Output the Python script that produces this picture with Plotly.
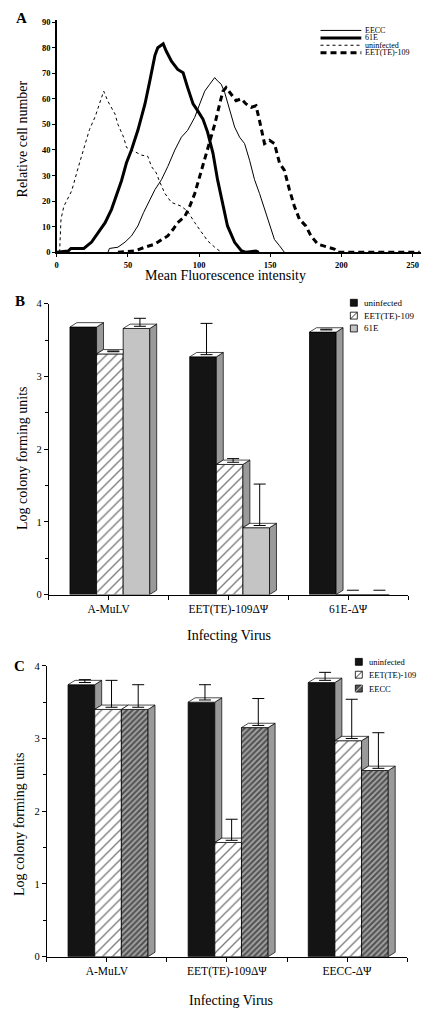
import plotly.graph_objects as go

W, H = 429, 1023
SERIF = "Liberation Serif, Times New Roman, serif"

# ---------------- Panel A data (flow cytometry histograms) ----------------
eecc_x = [36, 37, 43, 48, 52.5, 57, 61, 65.4, 69, 73.6, 78, 83, 87.6, 92, 97, 100.5, 104, 107.5, 111, 113,
          115.6, 118, 121.5, 125, 128.5, 132, 135.5, 139, 142.5, 146, 149.5, 153, 156.5, 160]
eecc_y = [0, 1.5, 2, 4, 6.4, 10.3, 15.5, 20.6, 24.5, 28.4, 33.5, 40, 45, 47.7, 52.8, 58, 63, 65.7, 68.3, 67,
          65.7, 62.5, 55.4, 49, 45, 42.5, 36, 28.4, 23, 16.8, 10.3, 5, 2.6, 0]

e61_x = [0, 8, 10, 19, 24.5, 29, 34, 38.5, 42, 45.5, 49, 52.5, 57, 62, 65.4, 69, 71, 74.8, 77, 80.6, 85, 88.8,
         92, 95.8, 99, 102.8, 106, 109.8, 113, 116.8, 120, 125, 129.7, 133, 140, 142]
e61_y = [0, 0.5, 1.5, 1.5, 4, 7.7, 11.6, 16.8, 22, 28, 35, 40, 47.7, 58, 67, 77, 80, 81.5, 78.6, 74.7, 71.5, 70.2,
         64.4, 58, 55.4, 52, 47, 38.7, 28.4, 18, 10.3, 3.9, 0.6, 0, 0.5, 0]

uninf_x = [2, 3, 5, 8, 10.5, 15, 20, 23, 27, 31.5, 33, 36, 41, 43, 47, 49, 52.5, 55, 59.6, 64, 66.6, 70, 72, 76,
           80.6, 87.6, 92, 97, 101.6, 106, 111, 115.6]
uninf_y = [0, 13, 18, 21, 24, 33, 42, 48, 53, 61, 63, 59, 54, 50, 45, 41, 40, 39, 38, 37.5, 33.5, 31, 28, 23,
           19.5, 18, 16, 11.6, 7.7, 4.5, 2, 0]

eet_x = [43, 55, 62, 69, 73.6, 78, 81.8, 85, 90, 93.5, 97, 100.5, 104, 107.5, 111, 114.5, 116.8, 119, 122.7, 126,
         129.7, 133, 136.7, 140, 142.5, 146, 149.5, 153, 156.5, 160, 163.5, 167, 170.5, 175, 178.7, 183.4, 190.4,
         195, 197.4, 255]
eet_y = [0, 0.6, 2, 3.2, 4.9, 6.4, 9, 11.6, 14, 18, 23, 29.6, 36, 42.5, 50, 58, 63, 64.4, 61.8, 59.3,
         60, 58, 56.7, 57.3, 51.5, 42.5, 43.8, 42.5, 35, 32, 24.5, 18, 13, 10.3, 6.4, 3.2, 2,
         1.3, 0, 0]

a_legend_labels = ["EECC", "61E", "uninfected", "EET(TE)-109"]

# ---------------- Panel B data ----------------
b_categories = ["A-MuLV", "EET(TE)-109ΔΨ", "61E-ΔΨ"]
b_series = ["uninfected", "EET(TE)-109", "61E"]
b_uninf = [3.68, 3.27, 3.61]
b_uninf_err = [0.03, 0.46, 0.04]
b_eet = [3.31, 1.79, 0.0]
b_eet_err = [0.04, 0.08, 0.0]
b_61e = [3.66, 0.92, 0.0]
b_61e_err = [0.14, 0.60, 0.0]

# ---------------- Panel C data ----------------
c_categories = ["A-MuLV", "EET(TE)-109ΔΨ", "EECC-ΔΨ"]
c_series = ["uninfected", "EET(TE)-109", "EECC"]
c_uninf = [3.74, 3.50, 3.77]
c_uninf_err = [0.07, 0.24, 0.14]
c_eet = [3.40, 1.57, 2.97]
c_eet_err = [0.40, 0.32, 0.57]
c_eecc = [3.40, 3.15, 2.56]
c_eecc_err = [0.34, 0.40, 0.52]

y_ticks_bar = [0, 1, 2, 3, 4]
a_xticks = [0, 50, 100, 150, 200, 250]
a_yticks = [0, 10, 20, 30, 40, 50, 60, 70, 80, 90]


def px(x):
    return x / W


def py(y):
    return 1 - y / H


fig = go.Figure()

# ---------------- Panel A traces ----------------
fig.add_trace(go.Scatter(x=eecc_x, y=eecc_y, mode="lines", line=dict(color="black", width=1),
                         xaxis="x", yaxis="y"))
fig.add_trace(go.Scatter(x=e61_x, y=e61_y, mode="lines", line=dict(color="black", width=3),
                         xaxis="x", yaxis="y"))
fig.add_trace(go.Scatter(x=uninf_x, y=uninf_y, mode="lines", line=dict(color="black", width=1, dash="3px,3px"),
                         xaxis="x", yaxis="y"))
fig.add_trace(go.Scatter(x=eet_x, y=eet_y, mode="lines", line=dict(color="black", width=3, dash="6px,4px"),
                         xaxis="x", yaxis="y"))

# ---------------- bar panel helper ----------------
BAR_W = 0.222
OFFSETS = [-0.212, 0.010, 0.232]
DX = 0.058
DY = 0.06

style_black = dict(color="#141414", line=dict(color="black", width=0.8))
style_hatch = dict(color="white", line=dict(color="black", width=0.8),
                   pattern=dict(shape="/", fgcolor="black", bgcolor="white", size=7, solidity=0.2))
style_gray = dict(color="#c4c4c4", line=dict(color="black", width=0.8))
style_dark = dict(color="#888888", line=dict(color="black", width=0.8),
                  pattern=dict(shape="/", fgcolor="#000000", bgcolor="#a8a8a8", size=4, solidity=0.55))


def bar_panel(xa, ya, vals_list, errs_list, styles):
    n_groups = len(vals_list[0])
    for s, (vals, st) in enumerate(zip(vals_list, styles)):
        xs = [g + OFFSETS[s] for g in range(n_groups)]
        fig.add_trace(go.Bar(x=xs, y=vals, width=BAR_W, marker=st, xaxis=xa, yaxis=ya))
    face_line = dict(color="black", width=0.7)
    for g in range(n_groups):
        for s in range(len(vals_list)):
            v = vals_list[s][g]
            xc = g + OFFSETS[s]
            xl, xr = xc - BAR_W / 2, xc + BAR_W / 2
            if v <= 0:
                fig.add_trace(go.Scatter(x=[xc + DX / 2 - 0.05, xc + DX / 2 + 0.05], y=[DY, DY], mode="lines",
                                         line=dict(color="black", width=1), xaxis=xa, yaxis=ya))
                continue
            nxt = vals_list[s + 1][g] if s + 1 < len(vals_list) else None
            # side face
            if nxt is None or nxt <= 0:
                sx = [xr, xr + DX, xr + DX, xr, xr]
                sy = [0, DY, v + DY, v, 0]
            elif v > nxt:
                sx = [xr, xr + DX, xr + DX, xr, xr]
                sy = [nxt, nxt + DY, v + DY, v, nxt]
            else:
                sx = None
            if sx is not None:
                fig.add_trace(go.Scatter(x=sx, y=sy, mode="lines", fill="toself", fillcolor="#9a9a9a",
                                         line=face_line, xaxis=xa, yaxis=ya))
            # top face
            if nxt is not None and nxt > v:
                tx = [xl, xl + DX, xr, xr, xl]
            else:
                tx = [xl, xl + DX, xr + DX, xr, xl]
            ty = [v, v + DY, v + DY, v, v]
            fig.add_trace(go.Scatter(x=tx, y=ty, mode="lines", fill="toself", fillcolor="white",
                                     line=face_line, xaxis=xa, yaxis=ya))
    # error bars (upper only), drawn from the top face
    for s, (vals, errs) in enumerate(zip(vals_list, errs_list)):
        for g in range(n_groups):
            v, e = vals[g], errs[g]
            if v <= 0 or e <= DY / 2:
                continue
            fig.add_trace(go.Scatter(
                x=[g + OFFSETS[s] + DX / 2], y=[v + DY / 2], mode="markers",
                marker=dict(size=1, color="rgba(0,0,0,0)"),
                error_y=dict(type="data", symmetric=False, array=[e - DY / 2], arrayminus=[0],
                             color="black", thickness=1, width=6),
                xaxis=xa, yaxis=ya))


bar_panel("x2", "y2", [b_uninf, b_eet, b_61e], [b_uninf_err, b_eet_err, b_61e_err],
          [style_black, style_hatch, style_gray])
bar_panel("x3", "y3", [c_uninf, c_eet, c_eecc], [c_uninf_err, c_eet_err, c_eecc_err],
          [style_black, style_hatch, style_dark])

# ---------------- axes ----------------
tick_a = dict(family=SERIF, size=8.5, color="black", weight="bold")
tick_b = dict(family=SERIF, size=10.5, color="black")
cat_font = dict(family=SERIF, size=11.5, color="black")
common = dict(showgrid=False, zeroline=False, showline=True, linecolor="black", ticks="outside",
              tickcolor="black")

fig.update_layout(
    width=W, height=H, margin=dict(l=0, r=0, t=0, b=0),
    paper_bgcolor="white", plot_bgcolor="white", showlegend=False, barmode="overlay",
    xaxis=dict(domain=[px(55), px(421)], range=[0, 256], anchor="y", tickvals=a_xticks,
               tickfont=tick_a, ticklen=3, linewidth=2, **common),
    yaxis=dict(domain=[py(250), py(14.7)], range=[0, 91], anchor="x", tickvals=a_yticks,
               tickfont=tick_a, ticklen=3, linewidth=1.5, **common),
    xaxis2=dict(domain=[px(47), px(408)], range=[-0.5, 2.5], anchor="y2", tickvals=[0, 1, 2],
                ticktext=b_categories, tickfont=cat_font, ticklen=4,
                linewidth=1, minor=dict(dtick=0.5, tick0=0.5, ticklen=4, ticks="outside", tickcolor="black"),
                **common),
    yaxis2=dict(domain=[py(596), py(302)], range=[0, 4], anchor="x2", tickvals=y_ticks_bar,
                tickfont=tick_b, ticklen=4, linewidth=1,
                minor=dict(dtick=0.5, ticklen=3, ticks="outside", tickcolor="black"), **common),
    xaxis3=dict(domain=[px(45), px(407)], range=[-0.5, 2.5], anchor="y3", tickvals=[0, 1, 2],
                ticktext=c_categories, tickfont=cat_font, ticklen=4,
                linewidth=1, minor=dict(dtick=0.5, tick0=0.5, ticklen=4, ticks="outside", tickcolor="black"),
                **common),
    yaxis3=dict(domain=[py(962), py(668)], range=[0, 4], anchor="x3", tickvals=y_ticks_bar,
                tickfont=tick_b, ticklen=4, linewidth=1,
                minor=dict(dtick=0.5, ticklen=3, ticks="outside", tickcolor="black"), **common),
)


# ---------------- text annotations ----------------
def ann(text, x, y, size=13, angle=0, bold=False, xanchor="center"):
    fig.add_annotation(text=text, x=px(x), y=py(y), xref="paper", yref="paper", showarrow=False,
                       textangle=angle, xanchor=xanchor, yanchor="middle",
                       font=dict(family=SERIF, size=size, color="black", weight="bold" if bold else "normal"))


ann("A", 20, 13, size=15, bold=True)
ann("B", 18, 299, size=15, bold=True)
ann("C", 18, 668, size=15, bold=True)
ann("Relative cell number", 21, 135, size=14, angle=-90)
ann("Mean Fluorescence intensity", 225, 273, size=14)
ann("Log colony forming units", 20, 458, size=14, angle=-90)
ann("Infecting Virus", 228, 637, size=14)
ann("Log colony forming units", 17, 828, size=14, angle=-90)
ann("Infecting Virus", 230, 1006, size=14)

# ---------------- legends (drawn manually for compact spacing) ----------------
a_leg_y = [25.7, 33.3, 40.7, 48.3]
a_leg_styles = [dict(width=1, dash="solid"), dict(width=3, dash="solid"),
                dict(width=1, dash="3px,3px"), dict(width=3, dash="6px,4px")]
for lbl, yy, st in zip(a_legend_labels, a_leg_y, a_leg_styles):
    fig.add_shape(type="line", xref="paper", yref="paper", x0=px(320), x1=px(361), y0=py(yy), y1=py(yy),
                  line=dict(color="black", **st))
    ann(lbl, 363, yy, size=8, xanchor="left")


def swatch_legend(labels, ys, kinds, x0, size, text_x, fsize):
    for lbl, yy, kind in zip(labels, ys, kinds):
        xa, xb = px(x0), px(x0 + size)
        ya, yb = py(yy + size / 2), py(yy - size / 2)
        fill = {"black": "#141414", "hatch": "white", "gray": "#c4c4c4", "dark": "#555555"}[kind]
        fig.add_shape(type="rect", xref="paper", yref="paper", x0=xa, x1=xb, y0=ya, y1=yb,
                      fillcolor=fill, line=dict(color="black", width=0.8))
        if kind in ("hatch", "dark"):
            fig.add_shape(type="line", xref="paper", yref="paper", x0=xa, x1=xb, y0=ya, y1=yb,
                          line=dict(color="black" if kind == "hatch" else "white", width=0.8))
        ann(lbl, text_x, yy, size=fsize, xanchor="left")


swatch_legend(b_series, [301, 314, 327], ["black", "hatch", "gray"], 350, 7, 362, 9)
swatch_legend(c_series, [664, 677, 691], ["black", "hatch", "dark"], 355, 7, 367, 8.5)

# remove the browser's default 8px body margin so the figure sits at the page origin
fig.write_html("out.html", config={"displayModeBar": False, "staticPlot": True},
               post_script="document.body.style.margin='0px';")
